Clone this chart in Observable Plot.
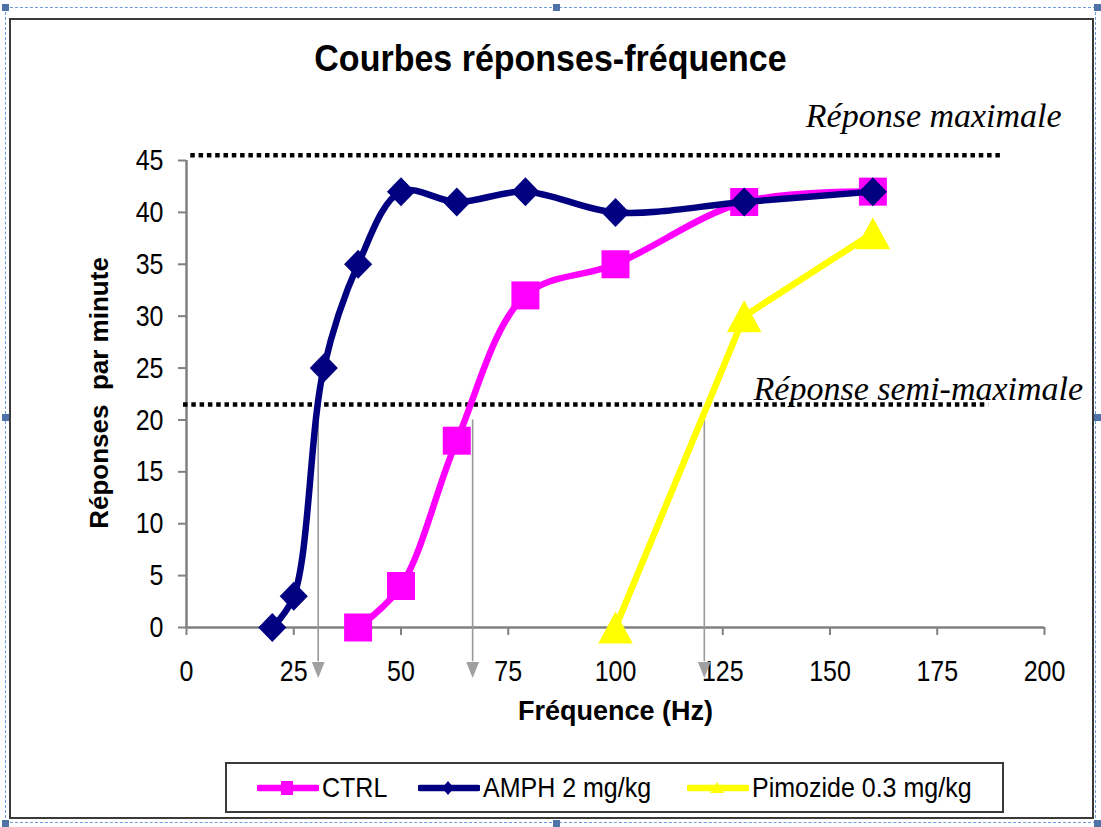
<!DOCTYPE html>
<html>
<head>
<meta charset="utf-8">
<script src="https://cdn.jsdelivr.net/npm/d3@7"></script>
<script src="https://cdn.jsdelivr.net/npm/@observablehq/plot@0.6"></script>
<style>
  body { margin: 0; background: #fff; }
  #page { position: relative; width: 1101px; height: 827px; overflow: hidden; background: #fff;
          font-family: "Liberation Sans", Arial, sans-serif; }
  #chart { position: absolute; left: 0; top: 0; }
  .dash { position: absolute; left: 5px; top: 7px; width: 1091px; height: 816px;
          border: 1.5px dashed #6e9bdc; box-sizing: border-box; }
  .frame { position: absolute; left: 9px; top: 18px; width: 1085px; height: 801px;
           border: 2px solid #3a3a3a; box-sizing: border-box; }
  .handle { position: absolute; width: 7px; height: 7px; background: #4f73a8; }
  #title { position: absolute; left: 0; width: 1101px; top: 36px; text-align: center;
           font-weight: bold; font-size: 34px; line-height: 44px; color: #000; }
  #title span { display: inline-block; transform: scaleY(1.1); }
  #legend { position: absolute; left: 225px; top: 762px; width: 779px; height: 51px;
            border: 2px solid #3a3a3a; box-sizing: border-box; background: #fff; }
  .item { position: absolute; top: 0; height: 47px; display: flex; align-items: center;
          font-size: 25px; color: #000; white-space: nowrap; }
  .item span { display: inline-block; transform: scaleY(1.12); }
  .item svg { margin-right: 3px; }
</style>
</head>
<body>
<div id="page">
  <div class="dash"></div>
  <div class="frame"></div>
  <div id="chart"></div>
  <div id="title"><span></span></div>
  <div id="legend"></div>
</div>
<script>
// ---- data ----
const seriesNames = ["CTRL", "AMPH 2 mg/kg", "Pimozide 0.3 mg/kg"];
const seriesColors = ["#ff00ff", "#000080", "#ffff00"];
const ctrlFreq = [40, 50, 63, 79, 100, 130, 160];
const ctrlResp = [0, 4, 18, 32, 35, 41, 42];
const amphFreq = [20, 25, 32, 40, 50, 63, 79, 100, 130, 160];
const amphResp = [0, 3, 25, 35, 42, 41, 42, 40, 41, 42];
const pimoFreq = [100, 130, 160];
const pimoResp = [0, 30, 38];
const xTicks = [0, 25, 50, 75, 100, 125, 150, 175, 200];
const yTicks = [0, 5, 10, 15, 20, 25, 30, 35, 40, 45];
const refLevels = [45.5, 21.5];
const refLabels = ["Réponse maximale", "Réponse semi-maximale"];
const halfMaxFreq = [30.7, 66.7, 120.7];
const titleText = "Courbes réponses-fréquence";
const xLabel = "Fréquence (Hz)";
const yLabel = "Réponses\u00a0 par minute";

const toRows = (f, r) => f.map((x, i) => ({x, y: r[i]}));
const ctrl = toRows(ctrlFreq, ctrlResp);
const amph = toRows(amphFreq, amphResp);
const pimo = toRows(pimoFreq, pimoResp);

// custom marker symbols (r = half height)
const rOf = size => Math.sqrt(size / Math.PI);
const diamondSym = { draw(c, s) { const r = rOf(s); c.moveTo(0, -r); c.lineTo(r * 0.97, 0); c.lineTo(0, r); c.lineTo(-r * 0.97, 0); c.closePath(); } };
const squareSym  = { draw(c, s) { const r = rOf(s); c.rect(-r, -r, 2 * r, 2 * r); } };
const triUpSym   = { draw(c, s) { const r = rOf(s); c.moveTo(0, -r); c.lineTo(r * 1.08, r); c.lineTo(-r * 1.08, r); c.closePath(); } };
const triDownSym = { draw(c, s) { const r = rOf(s); c.moveTo(-r * 0.8, -r); c.lineTo(r * 0.8, -r); c.lineTo(0, r); c.closePath(); } };

const serif = "'Liberation Serif', 'Times New Roman', serif";

const plot = Plot.plot({
  width: 1101,
  height: 827,
  marginLeft: 186,
  marginRight: 57,
  marginTop: 160,
  marginBottom: 200,
  x: {domain: [0, 200]},
  y: {domain: [0, 45]},
  style: {fontFamily: "'Liberation Sans', Arial, sans-serif", background: "transparent", overflow: "visible", color: "#000"},
  marks: [
    // axes
    Plot.axisX({ticks: xTicks, tickSize: 8, tickPadding: 24, fontSize: 25, stroke: "#808080", strokeWidth: 2, fill: "#000", label: null}),
    Plot.axisY({ticks: yTicks, tickSize: 8, tickPadding: 15, fontSize: 25, stroke: "#808080", strokeWidth: 2, fill: "#000", label: null}),
    Plot.ruleY([0], {x1: 0, x2: 200, stroke: "#808080", strokeWidth: 2.5}),
    Plot.ruleX([0], {y1: 0, y2: 45, stroke: "#808080", strokeWidth: 2.5}),
    // reference levels
    Plot.ruleY([refLevels[0]], {x1: 1, x2: 190, stroke: "#000", strokeWidth: 4.5, strokeDasharray: "4.5,3.8"}),
    Plot.ruleY([refLevels[1]], {x1: -0.7, x2: 187, stroke: "#000", strokeWidth: 4.5, strokeDasharray: "4.5,3.8"}),
    Plot.text([refLabels[0]], {x: 204, y: 49.3, text: d => d, textAnchor: "end", fontFamily: serif, fontStyle: "italic", fontSize: 34, fill: "#000"}),
    Plot.text([refLabels[1]], {x: 209, y: 23.0, text: d => d, textAnchor: "end", fontFamily: serif, fontStyle: "italic", fontSize: 34, fill: "#000"}),
    // half-max arrows
    Plot.ruleX(halfMaxFreq, {x: d => d, y1: 20, y2: -3.3, stroke: "#999", strokeWidth: 1.6}),
    Plot.dot(halfMaxFreq, {x: d => d, y: -4.1, symbol: triDownSym, r: 8, fill: "#a0a0a0", stroke: null}),
    // series
    Plot.line(ctrl, {x: "x", y: "y", stroke: seriesColors[0], strokeWidth: 6.5, curve: "catmull-rom"}),
    Plot.dot(ctrl, {x: "x", y: "y", symbol: squareSym, r: 14, fill: seriesColors[0], stroke: null}),
    Plot.line(amph, {x: "x", y: "y", stroke: seriesColors[1], strokeWidth: 6.5, curve: "catmull-rom"}),
    Plot.dot(amph, {x: "x", y: "y", symbol: diamondSym, r: 14.5, fill: seriesColors[1], stroke: null}),
    Plot.line(pimo, {x: "x", y: "y", stroke: seriesColors[2], strokeWidth: 6.5}),
    Plot.dot(pimo, {x: "x", y: "y", symbol: triUpSym, r: 16, fill: seriesColors[2], stroke: null}),
    // axis titles
    Plot.text([xLabel], {frameAnchor: "bottom", dy: 92, text: d => d, fontWeight: "bold", fontSize: 27, fill: "#000"}),
    Plot.text([yLabel], {x: -20.2, y: 22.6, rotate: -90, text: d => d, fontWeight: "bold", fontSize: 26, fill: "#000"})
  ]
});
document.getElementById("chart").appendChild(plot);

// stretch tick labels vertically like the reference
plot.querySelectorAll('g[aria-label="x-axis tick label"] text, g[aria-label="y-axis tick label"] text').forEach(t => {
  const tr = t.getAttribute("transform");
  if (tr) {
    t.setAttribute("transform", tr + " scale(1,1.2)");
  } else {
    const x = +t.getAttribute("x") || 0, y = +t.getAttribute("y") || 0;
    t.removeAttribute("x"); t.removeAttribute("y");
    t.setAttribute("transform", `translate(${x},${y}) scale(1,1.2)`);
  }
});

document.querySelector("#title span").textContent = titleText;

// legend
const legend = document.getElementById("legend");
const lefts = [30, 191, 460];
const markerSvg = [
  `<rect x="24" y="4" width="12" height="14" fill="${seriesColors[0]}"/>`,
  `<path d="M30,4 L36,11 L30,18 L24,11 Z" fill="${seriesColors[1]}"/>`,
  `<path d="M30,5 L37,16 L23,16 Z" fill="${seriesColors[2]}"/>`
];
seriesNames.forEach((name, i) => {
  const d = document.createElement("div");
  d.className = "item";
  d.style.left = lefts[i] + "px";
  d.innerHTML = `<svg width="62" height="22" viewBox="0 0 62 22"><line x1="2" y1="11" x2="60" y2="11" stroke="${seriesColors[i]}" stroke-width="6.5" stroke-linecap="round"/>${markerSvg[i]}</svg><span></span>`;
  d.querySelector("span").textContent = name;
  legend.appendChild(d);
});

// selection handles
const page = document.getElementById("page");
[[2, 4], [553, 4], [1094, 4], [2, 414], [1094, 414], [2, 820], [553, 820], [1094, 820]].forEach(([l, t]) => {
  const h = document.createElement("div");
  h.className = "handle";
  h.style.left = l + "px"; h.style.top = t + "px";
  page.appendChild(h);
});
</script>
</body>
</html>
